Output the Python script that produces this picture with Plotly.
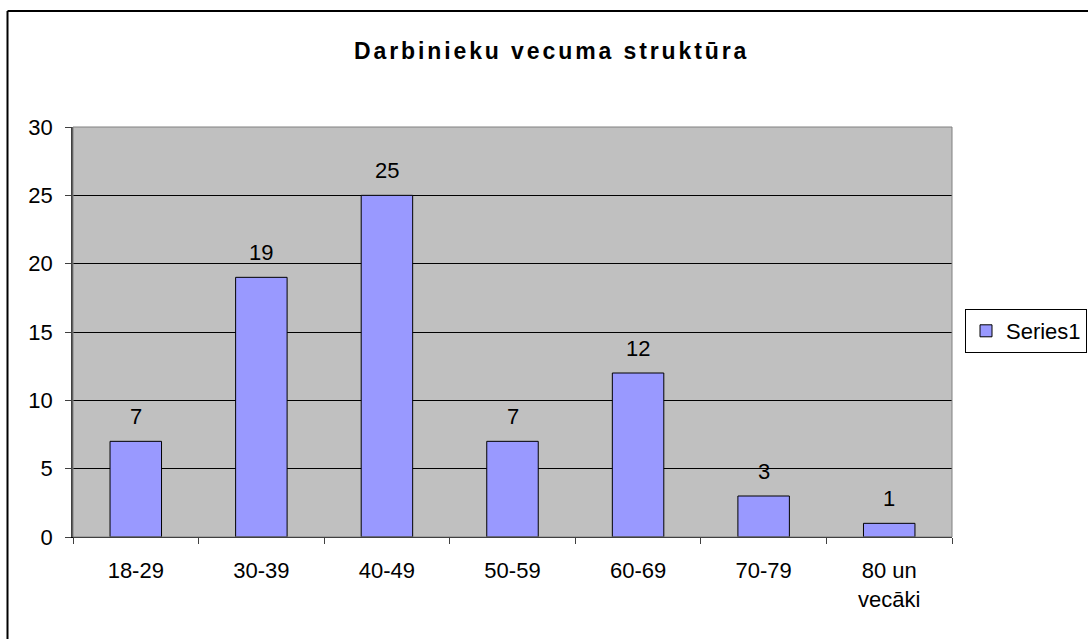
import plotly.graph_objects as go

categories = ["18-29", "30-39", "40-49", "50-59", "60-69", "70-79", "80 un<br>vecāki"]
values = [7, 19, 25, 7, 12, 3, 1]
series_name = "Series1"
title_text = "Darbinieku vecuma struktūra"
y_ticks = [0, 5, 10, 15, 20, 25, 30]

FONT = "Liberation Sans, Arial, sans-serif"

fig = go.Figure()
fig.add_trace(go.Bar(
    x=categories, y=values, name=series_name,
    marker=dict(color="#9999FF", line=dict(color="black", width=1)),
    showlegend=True,
))

for c, v in zip(categories, values):
    fig.add_annotation(x=c, y=v, text=str(v), showarrow=False,
                       yanchor="bottom", yshift=10,
                       font=dict(family=FONT, size=22, color="black"))

L, R, T, B = 73, 952, 127, 537
W, H = 1088, 639

def px(x):
    return (x - L) / (R - L)

def py(y):
    return (B - y) / (B - T)

# outer chart border (left and top visible)
fig.add_shape(type="line", xref="paper", yref="paper",
              x0=px(7.5), x1=px(W + 5), y0=py(11), y1=py(11),
              line=dict(color="black", width=2))
fig.add_shape(type="line", xref="paper", yref="paper",
              x0=px(7.5), x1=px(7.5), y0=py(11), y1=py(H + 5),
              line=dict(color="black", width=2))
# plot area border (top & right gray)
fig.add_shape(type="rect", xref="paper", yref="paper",
              x0=0, x1=1, y0=0, y1=1,
              line=dict(color="#808080", width=1), layer="above")

fig.update_layout(
    width=W, height=H,
    margin=dict(l=L, r=W - R, t=T, b=H - B, pad=0, autoexpand=False),
    paper_bgcolor="white",
    plot_bgcolor="#C0C0C0",
    font=dict(family=FONT, size=22, color="black"),
    bargap=0.59,
    title=dict(text='<span style="letter-spacing:2.9px">' + title_text + '</span>',
               x=0.507, xref="container", xanchor="center",
               y=1 - 51 / H, yref="container", yanchor="middle",
               font=dict(family=FONT, size=23, color="black", weight="bold")),
    legend=dict(x=px(965), xanchor="left", y=py(331), yanchor="middle",
                bordercolor="black", borderwidth=1, bgcolor="white",
                font=dict(family=FONT, size=22, color="black"),
                itemwidth=30, tracegroupgap=0),
    xaxis=dict(type="category", tickson="boundaries", ticks="outside",
               ticklen=6, tickcolor="#404040", showline=True, linecolor="black",
               linewidth=1, showgrid=False, ticklabelstandoff=14,
               tickfont=dict(family=FONT, size=22, color="black")),
    yaxis=dict(range=[0, 30], tickvals=y_ticks, ticks="outside", ticklen=6,
               tickcolor="#404040", showline=True, linecolor="#404040",
               linewidth=1.5, showgrid=True, gridcolor="black", gridwidth=1,
               zeroline=False, ticklabelstandoff=8,
               tickfont=dict(family=FONT, size=22, color="black")),
)

fig.write_html("out.html", config={"displayModeBar": False},
               post_script="document.body.style.margin='0';document.body.style.overflow='hidden';")
